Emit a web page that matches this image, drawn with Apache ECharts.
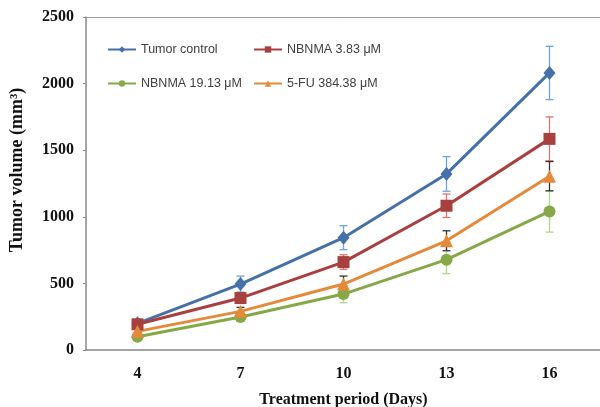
<!DOCTYPE html>
<html>
<head>
<meta charset="utf-8">
<script src="https://cdn.jsdelivr.net/npm/echarts@6/dist/echarts.min.js"></script>
<style>
  html, body { margin: 0; padding: 0; background: #fff; }
  #chart { width: 600px; height: 407px; }
</style>
</head>
<body>
<div id="chart"></div>
<script>
// 数据
const days = ['4', '7', '10', '13', '16'];
const seriesNames = ['Tumor control', 'NBNMA 3.83 μM', 'NBNMA 19.13 μM', '5-FU 384.38 μM'];

const controlMean = [200, 495, 843, 1322, 2080];
const controlErr = [20, 60, 90, 130, 200];
const nbnmaLowMean = [193, 390, 660, 1083, 1585];
const nbnmaLowErr = [20, 35, 55, 88, 165];
const nbnmaHighMean = [100, 248, 420, 678, 1040];
const nbnmaHighErr = [12, 25, 65, 105, 155];
const fuMean = [140, 290, 495, 820, 1305];
const fuErr = [15, 30, 60, 75, 110];

const colors = ['#4671A8', '#A8403F', '#86A846', '#E5893A'];
const errColors = ['#6AA6DC', '#E07474', '#B3D78C', '#333333'];
const symbols = ['diamond', 'rect', 'circle', 'triangle'];

const means = [controlMean, nbnmaLowMean, nbnmaHighMean, fuMean];
const errs = [controlErr, nbnmaLowErr, nbnmaHighErr, fuErr];

// 误差线
function errorSeries(i) {
  return {
    type: 'custom',
    z: 1,
    silent: true,
    data: means[i].map((m, k) => [k, m - errs[i][k], m + errs[i][k]]),
    renderItem: (params, api) => {
      const lo = api.coord([api.value(0), api.value(1)]);
      const hi = api.coord([api.value(0), api.value(2)]);
      const w = 4;
      const style = { stroke: errColors[i], lineWidth: 1.3 };
      return {
        type: 'group',
        children: [
          { type: 'line', shape: { x1: lo[0], y1: lo[1], x2: hi[0], y2: hi[1] }, style },
          { type: 'line', shape: { x1: lo[0] - w, y1: lo[1], x2: lo[0] + w, y2: lo[1] }, style },
          { type: 'line', shape: { x1: hi[0] - w, y1: hi[1], x2: hi[0] + w, y2: hi[1] }, style }
        ]
      };
    }
  };
}

const lineSeries = seriesNames.map((name, i) => ({
  name: name,
  type: 'line',
  z: 3,
  data: means[i],
  symbol: symbols[i],
  symbolSize: symbols[i] === 'diamond' ? [12, 14] : symbols[i] === 'triangle' ? [13, 13] : 12,
  showAllSymbol: true,
  lineStyle: { color: colors[i], width: 3 },
  itemStyle: { color: colors[i] }
}));

const legendPos = [
  { left: 102, top: 38 },
  { left: 248, top: 38 },
  { left: 102, top: 72 },
  { left: 248, top: 72 }
];

const chart = echarts.init(document.getElementById('chart'));
chart.setOption({
  animation: false,
  color: colors,
  legend: seriesNames.map((name, i) => ({
    data: [name],
    left: legendPos[i].left,
    top: legendPos[i].top,
    itemWidth: 28,
    itemHeight: 8,
    itemGap: 10,
    textStyle: { fontFamily: 'Liberation Sans', fontSize: 12.5, color: '#404040' }
  })),
  grid: { left: 86, top: 17, width: 515, height: 333, outerBoundsMode: 'none', containLabel: false },
  xAxis: [{
    type: 'category',
    data: days,
    boundaryGap: true,
    name: 'Treatment period (Days)',
    nameLocation: 'middle',
    nameGap: 42,
    nameTextStyle: { fontFamily: 'Liberation Serif', fontWeight: 'bold', fontSize: 16, color: '#111' },
    axisLine: { lineStyle: { color: '#888', width: 1.5 } },
    axisTick: { inside: true, length: 5, lineStyle: { color: '#666' } },
    axisLabel: { margin: 16, fontFamily: 'Liberation Serif', fontWeight: 'bold', fontSize: 16, color: '#111' },
    splitLine: { show: false }
  }, {
    // 顶部边框
    type: 'category',
    data: days,
    position: 'top',
    axisLine: { lineStyle: { color: '#9a9a9a', width: 1 } },
    axisTick: { show: false },
    axisLabel: { show: false },
    splitLine: { show: false }
  }],
  yAxis: {
    type: 'value',
    min: 0,
    max: 2500,
    interval: 500,
    name: 'Tumor volume (mm³)',
    nameLocation: 'middle',
    nameGap: 60,
    nameTextStyle: { fontFamily: 'Liberation Serif', fontWeight: 'bold', fontSize: 18, color: '#111', padding: [0, 0, 0, 27] },
    axisLine: { show: true, lineStyle: { color: '#888', width: 1.5 } },
    axisTick: { show: true, length: 3, lineStyle: { color: '#888' } },
    axisLabel: {
      margin: 12, fontFamily: 'Liberation Serif', fontWeight: 'bold', fontSize: 16, color: '#111',
      formatter: v => String(v)
    },
    splitLine: { show: false }
  },
  series: [0, 1, 2, 3].map(errorSeries).concat(lineSeries)
});
</script>
</body>
</html>
